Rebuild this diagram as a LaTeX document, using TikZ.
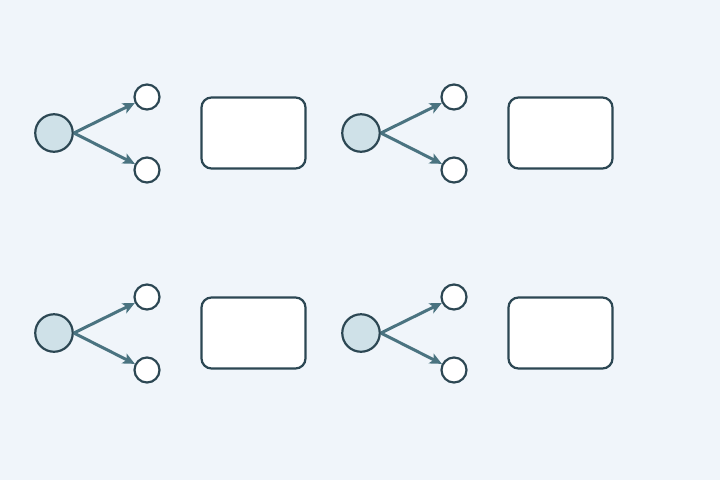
\documentclass[tikz,border=0pt]{standalone}
\usetikzlibrary{arrows.meta}
\definecolor{bgpale}{HTML}{F0F5FA}
\definecolor{inkdark}{HTML}{2C4753}
\definecolor{arrowteal}{HTML}{4A7380}
\definecolor{hubfill}{HTML}{CFE1E8}
\tikzset{
  hub/.style={circle,draw=inkdark,fill=hubfill,line width=2.2pt,minimum size=37.5pt,inner sep=0pt},
  leaf/.style={circle,draw=inkdark,fill=white,line width=2.2pt,minimum size=25pt,inner sep=0pt},
  card/.style={rectangle,rounded corners=10pt,draw=inkdark,fill=white,line width=2.2pt,
    minimum width=104pt,minimum height=71pt,inner sep=0pt},
  branch/.style={arrowteal,line width=3pt,-{Stealth[length=12pt,width=11pt,inset=3pt]}}
}
\begin{document}
\begin{tikzpicture}[x=1pt,y=-1pt]
    %% Background
    \fill[bgpale] (0,0) rectangle (720,480);
    \useasboundingbox (0,0) rectangle (720,480);
    %% Groups
    \foreach \gx/\gy/\n in {0/0/a,307/0/b,0/200/c,307/200/d} {
        \node[hub] (hub-\n) at (54+\gx,133+\gy) {};
        \node[leaf] (up-\n) at (147+\gx,97+\gy) {};
        \node[leaf] (down-\n) at (147+\gx,170+\gy) {};
        \node[card] (card-\n) at (253.5+\gx,133+\gy) {};
        \draw[branch] (hub-\n.east) -- (up-\n);
        \draw[branch] (hub-\n.east) -- (down-\n);
    }
\end{tikzpicture}
\end{document}
